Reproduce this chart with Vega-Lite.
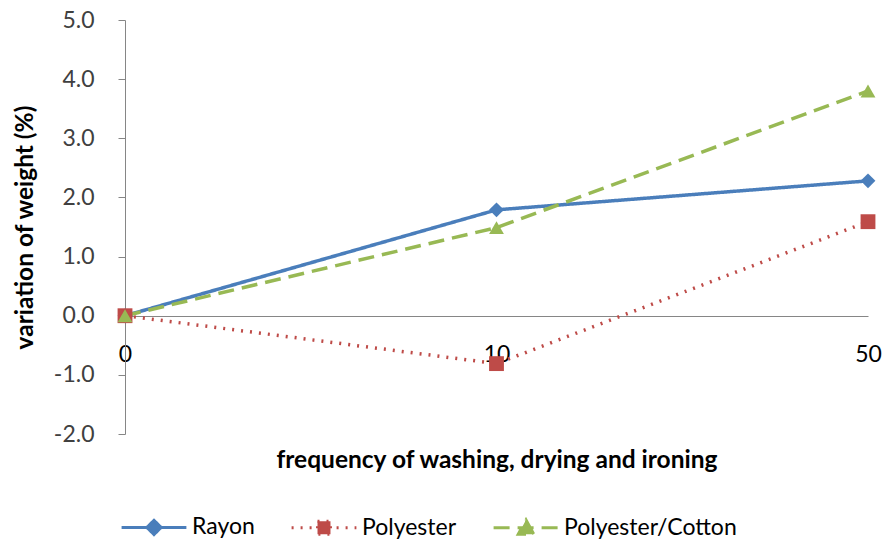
{
  "$schema": "https://vega.github.io/schema/vega-lite/v6.json",
  "width": 743,
  "height": 414,
  "autosize": {"type": "none"},
  "padding": {"left": 125, "top": 20, "right": 17, "bottom": 107},
  "background": "white",
  "config": {
    "view": {"stroke": null},
    "font": "Lato",
    "axis": {"grid": false, "domainColor": "#868686", "tickColor": "#868686", "labelColor": "#404040", "labelFont": "Lato", "labelFontSize": 23, "titleFont": "Lato", "titleFontSize": 24.5, "titleFontWeight": "bold", "titleColor": "#000000"}
  },
  "data": {
    "values": [
      {"freq": 0, "series": "Rayon", "value": 0},
      {"freq": 10, "series": "Rayon", "value": 1.79},
      {"freq": 50, "series": "Rayon", "value": 2.28},
      {"freq": 0, "series": "Polyester", "value": 0},
      {"freq": 10, "series": "Polyester", "value": -0.81},
      {"freq": 50, "series": "Polyester", "value": 1.59},
      {"freq": 0, "series": "Polyester/Cotton", "value": 0},
      {"freq": 10, "series": "Polyester/Cotton", "value": 1.49},
      {"freq": 50, "series": "Polyester/Cotton", "value": 3.8}
    ]
  },
  "encoding": {
    "x": {
      "field": "freq", "type": "ordinal", "sort": "ascending",
      "scale": {"type": "point", "padding": 0},
      "axis": {"title": "frequency of washing, drying and ironing", "labelAngle": 0, "ticks": false, "offset": -118, "labelPadding": 27, "titleY": 144, "titleBaseline": "middle", "labelColor": "#000000"}
    },
    "y": {
      "field": "value", "type": "quantitative",
      "scale": {"domain": [-2, 5], "nice": false, "zero": false},
      "axis": {"title": "variation of weight (%)", "values": [-2, -1, 0, 1, 2, 3, 4, 5], "format": ".1f", "labelExpr": "replace(datum.label, '\u2212', '-')", "tickSize": 7, "labelPadding": 24, "titleX": -100, "titleY": 207, "titleAnchor": "middle", "titleBaseline": "middle"}
    },
    "color": {
      "field": "series", "type": "nominal",
      "scale": {"domain": ["Rayon", "Polyester", "Polyester/Cotton"], "range": ["#4A7EBB", "#BE4B48", "#98B954"]},
      "legend": {
        "title": null, "orient": "none", "direction": "horizontal", "legendX": -5, "legendY": 473,
        "labelFont": "Lato", "labelFontSize": 23, "labelColor": "#000000", "labelLimit": 400,
        "symbolSize": 4200, "symbolStrokeWidth": 3, "columnPadding": 30, "labelOffset": 4,
        "symbolType": "M-1,0H1",
        "encode": {
          "symbols": {
            "update": {
              "shape": {"signal": "datum.value === 'Rayon' ? 'M-1,0H1M0,-0.22L0.22,0L0,0.22L-0.22,0Z' : datum.value === 'Polyester' ? 'M-1,0H1M-0.2,-0.2H0.2V0.2H-0.2Z' : 'M-1,0H1M0,-0.24L0.24,0.2H-0.24Z'"},
              "fill": {"signal": "datum.value === 'Rayon' ? '#4A7EBB' : datum.value === 'Polyester' ? '#BE4B48' : '#98B954'"},
              "stroke": {"signal": "datum.value === 'Rayon' ? '#4A7EBB' : datum.value === 'Polyester' ? '#BE4B48' : '#98B954'"},
              "strokeDash": {"signal": "datum.value === 'Rayon' ? [1,0] : datum.value === 'Polyester' ? [2,5] : [9,4]"},
              "strokeWidth": {"value": 3},
              "opacity": {"value": 1}
            }
          }
        }
      }
    }
  },
  "layer": [
    {
      "mark": {"type": "line", "strokeWidth": 3.5},
      "encoding": {
        "strokeDash": {
          "field": "series", "type": "nominal",
          "scale": {"domain": ["Rayon", "Polyester", "Polyester/Cotton"], "range": [[1, 0], [2, 7], [16, 8]]},
          "legend": null
        }
      }
    },
    {
      "transform": [{"filter": "datum.series === 'Rayon'"}],
      "mark": {"type": "point", "shape": "diamond", "filled": true, "opacity": 1, "size": 220}
    },
    {
      "transform": [{"filter": "datum.series === 'Polyester'"}],
      "mark": {"type": "point", "shape": "square", "filled": true, "opacity": 1, "size": 220}
    },
    {
      "transform": [{"filter": "datum.series === 'Polyester/Cotton'"}],
      "mark": {"type": "point", "shape": "triangle-up", "filled": true, "opacity": 1, "size": 220}
    }
  ]
}
